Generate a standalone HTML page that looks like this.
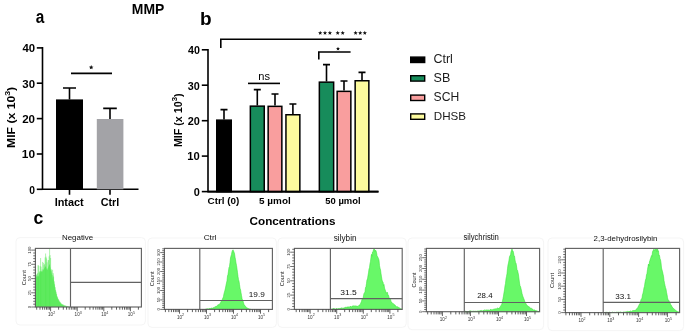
<!DOCTYPE html>
<html><head><meta charset="utf-8"><style>
html,body{margin:0;padding:0;background:#fff;}
svg{display:block;} svg text{filter:grayscale(1);}
</style></head><body>
<svg width="685" height="335" viewBox="0 0 685 335">
<rect width="685" height="335" fill="#fff"/>
<text x="35.75" y="22.53" font-family="'Liberation Sans', sans-serif" font-weight="bold" font-size="17.89" textLength="8.55" lengthAdjust="spacingAndGlyphs" >a</text>
<text x="131.87" y="13.60" font-family="'Liberation Sans', sans-serif" font-weight="bold" font-size="13.95" textLength="32.51" lengthAdjust="spacingAndGlyphs" >MMP</text>
<g stroke="#000" stroke-width="1.6" fill="none">
<path d="M42.5,47.1V189.3H138.5"/>
<path d="M36.8,189.3H42.5"/>
<path d="M36.8,154.0H42.5"/>
<path d="M36.8,118.6H42.5"/>
<path d="M36.8,83.2H42.5"/>
<path d="M36.8,47.9H42.5"/>
<path d="M69.5,189.3V194.8M110,189.3V194.8"/>
</g>
<text x="29.29" y="193.60" font-family="'Liberation Sans', sans-serif" font-weight="bold" font-size="10.60" textLength="5.73" lengthAdjust="spacingAndGlyphs" >0</text>
<text x="21.85" y="158.25" font-family="'Liberation Sans', sans-serif" font-weight="bold" font-size="10.60" textLength="13.24" lengthAdjust="spacingAndGlyphs" >10</text>
<text x="22.20" y="122.90" font-family="'Liberation Sans', sans-serif" font-weight="bold" font-size="10.60" textLength="12.88" lengthAdjust="spacingAndGlyphs" >20</text>
<text x="22.34" y="87.55" font-family="'Liberation Sans', sans-serif" font-weight="bold" font-size="10.60" textLength="12.73" lengthAdjust="spacingAndGlyphs" >30</text>
<text x="22.43" y="52.20" font-family="'Liberation Sans', sans-serif" font-weight="bold" font-size="10.60" textLength="12.64" lengthAdjust="spacingAndGlyphs" >40</text>
<rect x="56" y="99.4" width="27" height="89.9" fill="#000"/>
<rect x="96.8" y="119" width="26.6" height="70.3" fill="#a3a3a7"/>
<g stroke="#000" stroke-width="1.6" fill="none">
<path d="M69.5,99.4V88M63,88H76"/>
<path d="M110,119V108.4M103.2,108.4H116.8"/>
<path d="M71,73.4H112"/>
</g>
<polygon points="91.20,65.00 91.83,66.53 93.48,66.66 92.23,67.73 92.61,69.34 91.20,68.48 89.79,69.34 90.17,67.73 88.92,66.66 90.57,66.53" fill="#111"/>
<text x="54.67" y="206.00" font-family="'Liberation Sans', sans-serif" font-weight="bold" font-size="10.90" textLength="29.06" lengthAdjust="spacingAndGlyphs" >Intact</text>
<text x="100.66" y="206.30" font-family="'Liberation Sans', sans-serif" font-weight="bold" font-size="10.63" textLength="18.61" lengthAdjust="spacingAndGlyphs" >Ctrl</text>
<text transform="translate(15.0,117.4) rotate(-90) scale(1.12,1)" font-family="'Liberation Sans', sans-serif" font-weight="bold" font-size="10.9" text-anchor="middle">MIF (x 10<tspan dy="-4.8" font-size="7.8">3</tspan><tspan dy="4.8">)</tspan></text>
<text x="199.94" y="24.53" font-family="'Liberation Sans', sans-serif" font-weight="bold" font-size="17.43" textLength="11.64" lengthAdjust="spacingAndGlyphs" >b</text>
<g stroke="#000" stroke-width="1.6" fill="none">
<path d="M208,49.0V191.6H378.5"/>
<path d="M201.8,191.6H208"/>
<path d="M201.8,156.1H208"/>
<path d="M201.8,120.7H208"/>
<path d="M201.8,85.2H208"/>
<path d="M201.8,49.8H208"/>
</g>
<text x="193.77" y="195.90" font-family="'Liberation Sans', sans-serif" font-weight="bold" font-size="10.88" textLength="6.08" lengthAdjust="spacingAndGlyphs" >0</text>
<text x="187.39" y="160.45" font-family="'Liberation Sans', sans-serif" font-weight="bold" font-size="10.88" textLength="12.47" lengthAdjust="spacingAndGlyphs" >10</text>
<text x="187.72" y="125.00" font-family="'Liberation Sans', sans-serif" font-weight="bold" font-size="10.88" textLength="12.13" lengthAdjust="spacingAndGlyphs" >20</text>
<text x="187.85" y="89.55" font-family="'Liberation Sans', sans-serif" font-weight="bold" font-size="10.88" textLength="11.99" lengthAdjust="spacingAndGlyphs" >30</text>
<text x="187.94" y="54.10" font-family="'Liberation Sans', sans-serif" font-weight="bold" font-size="10.88" textLength="11.90" lengthAdjust="spacingAndGlyphs" >40</text>
<path d="M224.00,119.4V109.6M220.50,109.6H227.50" stroke="#000" stroke-width="1.6" fill="none"/>
<rect x="216.75" y="120.15" width="14.50" height="71.45" fill="#000" stroke="#000" stroke-width="1.5"/>
<path d="M257.30,105.4V89.6M253.80,89.6H260.80" stroke="#000" stroke-width="1.6" fill="none"/>
<rect x="250.35" y="106.15" width="13.90" height="85.45" fill="#178c5b" stroke="#000" stroke-width="1.5"/>
<path d="M275.00,105.6V94M271.50,94H278.50" stroke="#000" stroke-width="1.6" fill="none"/>
<rect x="268.15" y="106.35" width="13.70" height="85.25" fill="#f99e9e" stroke="#000" stroke-width="1.5"/>
<path d="M292.90,114V104M289.40,104H296.40" stroke="#000" stroke-width="1.6" fill="none"/>
<rect x="285.95" y="114.75" width="13.90" height="76.85" fill="#fdfb9e" stroke="#000" stroke-width="1.5"/>
<path d="M326.50,81.4V64.6M323.00,64.6H330.00" stroke="#000" stroke-width="1.6" fill="none"/>
<rect x="319.35" y="82.15" width="14.30" height="109.45" fill="#178c5b" stroke="#000" stroke-width="1.5"/>
<path d="M344.00,90.6V81M340.50,81H347.50" stroke="#000" stroke-width="1.6" fill="none"/>
<rect x="337.15" y="91.35" width="13.70" height="100.25" fill="#f99e9e" stroke="#000" stroke-width="1.5"/>
<path d="M362.00,80V72.4M358.50,72.4H365.50" stroke="#000" stroke-width="1.6" fill="none"/>
<rect x="355.15" y="80.75" width="13.70" height="110.85" fill="#fdfb9e" stroke="#000" stroke-width="1.5"/>
<g stroke="#000" stroke-width="1.6" fill="none">
<path d="M208,191.6H378.5"/>
<path d="M220.8,48V39.2H361.8"/>
<path d="M318.8,59.4V52H350.6"/>
<path d="M248,83.4H280"/>
</g>
<text x="258.26" y="79.60" font-family="'Liberation Sans', sans-serif" font-size="11.15" textLength="11.74" lengthAdjust="spacingAndGlyphs" >ns</text>
<polygon points="338.00,46.70 338.56,48.04 340.00,48.15 338.90,49.09 339.23,50.50 338.00,49.74 336.77,50.50 337.10,49.09 336.00,48.15 337.44,48.04" fill="#111"/>
<polygon points="320.20,30.75 320.80,32.18 322.34,32.30 321.16,33.31 321.52,34.82 320.20,34.01 318.88,34.82 319.24,33.31 318.06,32.30 319.60,32.18" fill="#111"/>
<polygon points="325.00,30.75 325.60,32.18 327.14,32.30 325.96,33.31 326.32,34.82 325.00,34.01 323.68,34.82 324.04,33.31 322.86,32.30 324.40,32.18" fill="#111"/>
<polygon points="329.90,30.75 330.50,32.18 332.04,32.30 330.86,33.31 331.22,34.82 329.90,34.01 328.58,34.82 328.94,33.31 327.76,32.30 329.30,32.18" fill="#111"/>
<polygon points="337.70,30.75 338.30,32.18 339.84,32.30 338.66,33.31 339.02,34.82 337.70,34.01 336.38,34.82 336.74,33.31 335.56,32.30 337.10,32.18" fill="#111"/>
<polygon points="342.70,30.75 343.30,32.18 344.84,32.30 343.66,33.31 344.02,34.82 342.70,34.01 341.38,34.82 341.74,33.31 340.56,32.30 342.10,32.18" fill="#111"/>
<polygon points="355.60,30.75 356.20,32.18 357.74,32.30 356.56,33.31 356.92,34.82 355.60,34.01 354.28,34.82 354.64,33.31 353.46,32.30 355.00,32.18" fill="#111"/>
<polygon points="360.20,30.75 360.80,32.18 362.34,32.30 361.16,33.31 361.52,34.82 360.20,34.01 358.88,34.82 359.24,33.31 358.06,32.30 359.60,32.18" fill="#111"/>
<polygon points="364.80,30.75 365.40,32.18 366.94,32.30 365.76,33.31 366.12,34.82 364.80,34.01 363.48,34.82 363.84,33.31 362.66,32.30 364.20,32.18" fill="#111"/>
<text x="207.49" y="203.92" font-family="'Liberation Sans', sans-serif" font-weight="bold" font-size="9.55" textLength="31.90" lengthAdjust="spacingAndGlyphs" >Ctrl (0)</text>
<text x="259.10" y="203.60" font-family="'Liberation Sans', sans-serif" font-weight="bold" font-size="9.11" textLength="31.61" lengthAdjust="spacingAndGlyphs" >5 µmol</text>
<text x="325.31" y="203.60" font-family="'Liberation Sans', sans-serif" font-weight="bold" font-size="9.11" textLength="35.36" lengthAdjust="spacingAndGlyphs" >50 µmol</text>
<text x="249.52" y="225.00" font-family="'Liberation Sans', sans-serif" font-weight="bold" font-size="11.04" textLength="85.96" lengthAdjust="spacingAndGlyphs" >Concentrations</text>
<text transform="translate(181.6,120.3) rotate(-90) scale(1.05,1)" font-family="'Liberation Sans', sans-serif" font-weight="bold" font-size="10.2" text-anchor="middle">MIF (x 10<tspan dy="-4.6" font-size="7.4">3</tspan><tspan dy="4.6">)</tspan></text>
<rect x="410.7" y="57.1" width="14" height="5.4" fill="#000" stroke="#000" stroke-width="1.4"/>
<text x="433.47" y="63.40" font-family="'Liberation Sans', sans-serif" font-size="11.87" textLength="19.37" lengthAdjust="spacingAndGlyphs" fill="#1a1a1a" >Ctrl</text>
<rect x="410.7" y="75.7" width="14" height="5.4" fill="#178c5b" stroke="#000" stroke-width="1.4"/>
<text x="433.53" y="82.30" font-family="'Liberation Sans', sans-serif" font-size="12.03" textLength="16.73" lengthAdjust="spacingAndGlyphs" fill="#1a1a1a" >SB</text>
<rect x="410.7" y="95.1" width="14" height="5.4" fill="#f99e9e" stroke="#000" stroke-width="1.4"/>
<text x="433.55" y="101.10" font-family="'Liberation Sans', sans-serif" font-size="11.89" textLength="25.64" lengthAdjust="spacingAndGlyphs" fill="#1a1a1a" >SCH</text>
<rect x="410.7" y="113.9" width="14" height="5.4" fill="#fdfb9e" stroke="#000" stroke-width="1.4"/>
<text x="433.85" y="120.30" font-family="'Liberation Sans', sans-serif" font-size="11.60" textLength="32.27" lengthAdjust="spacingAndGlyphs" fill="#1a1a1a" >DHSB</text>
<text x="33.51" y="224.21" font-family="'Liberation Sans', sans-serif" font-weight="bold" font-size="18.98" textLength="9.81" lengthAdjust="spacingAndGlyphs" >c</text>
<rect x="16" y="237.6" width="129.4" height="87.4" rx="4" fill="none" stroke="#f5f5f5" stroke-width="1"/>
<path d="M35.6,307.0L35.6,278.0L36.1,277.3L36.6,276.6L37.1,276.1L37.6,276.4L38.1,276.7L38.6,276.6L39.1,274.6L39.6,272.6L40.1,271.1L40.6,271.3L41.1,271.6L41.6,271.8L42.1,271.9L42.6,271.1L43.1,270.4L43.6,269.6L44.1,268.8L44.6,267.8L45.1,266.8L45.6,266.3L46.1,267.6L46.6,268.9L47.1,269.8L47.6,268.6L48.1,267.4L48.6,266.2L49.1,265.0L49.6,264.4L50.1,266.4L50.6,268.4L51.1,270.4L51.6,272.4L52.1,275.0L52.6,280.0L53.1,273.8L53.6,277.6L54.1,281.5L54.6,284.7L55.1,287.6L55.6,290.4L56.1,292.6L56.6,294.6L57.1,296.6L57.6,297.9L58.1,299.1L58.6,300.3L59.1,301.2L59.6,302.0L60.1,302.8L60.6,303.4L61.1,304.0L61.6,304.5L62.1,304.8L62.6,305.1L63.1,305.4L63.6,305.7L64.1,306.0L64.6,306.3L65.1,306.5L65.6,306.7L66.1,306.8L66.6,307.0L67.1,307.0L67.6,307.0L68.1,307.0L68.6,307.0L69.1,307.0L69.6,307.0L70.1,307.0L70.1,307.0Z" fill="#86f286"/>
<path d="M35.60,307.0V270.1M36.10,307.0V275.4M36.60,307.0V274.8M37.10,307.0V274.0M37.60,307.0V272.9M38.10,307.0V265.2M38.60,307.0V276.2M39.10,307.0V272.7M39.60,307.0V271.4M40.10,307.0V266.1M40.60,307.0V272.5M41.10,307.0V266.7M41.60,307.0V270.9M42.10,307.0V269.5M42.60,307.0V261.9M43.10,307.0V269.5M43.60,307.0V262.9M44.10,307.0V265.1M44.60,307.0V264.1M45.10,307.0V257.5M45.60,307.0V266.7M46.10,307.0V256.7M46.60,307.0V258.4M47.10,307.0V262.3M47.60,307.0V270.0M48.10,307.0V260.2M48.60,307.0V260.1M49.10,307.0V256.4M49.60,307.0V264.4M50.10,307.0V255.1M50.60,307.0V258.0M51.10,307.0V270.5M51.60,307.0V269.3M52.10,307.0V274.9M52.60,307.0V269.8M53.10,307.0V273.0M53.60,307.0V276.6M54.10,307.0V281.3M54.60,307.0V284.3M55.10,307.0V287.1M55.60,307.0V290.0M56.10,307.0V291.7M56.60,307.0V294.0M57.10,307.0V296.2M57.60,307.0V297.3M58.10,307.0V298.8M58.60,307.0V299.4M59.10,307.0V300.3M59.60,307.0V301.3M60.10,307.0V301.9M60.60,307.0V302.5M61.10,307.0V303.2M61.60,307.0V303.8M62.10,307.0V304.1M62.60,307.0V304.3M63.10,307.0V304.6M63.60,307.0V304.8M64.10,307.0V305.0M64.60,307.0V305.4M65.10,307.0V305.5M65.60,307.0V305.7M66.10,307.0V305.8M66.60,307.0V306.0M67.10,307.0V306.2M67.60,307.0V306.3M68.10,307.0V306.4M68.60,307.0V306.6M69.10,307.0V306.7M69.60,307.0V306.8M70.10,307.0V307.0M49.60,307.0V249M45.60,307.0V253.5M40.60,307.0V258M38.40,307.0V265.5" stroke="#4ee84e" stroke-width="0.55" opacity="0.85" fill="none"/>
<g stroke="#626262" stroke-width="1.15" fill="none">
<rect x="35.4" y="248.4" width="106.0" height="58.6"/>
<path d="M70.5,248.4V307.0M70.5,282.3H141.4"/>
</g>
<path d="M36.7,307.0v2.7M40.0,307.0v2.7M42.6,307.0v2.7M44.7,307.0v2.7M46.5,307.0v2.7M48.0,307.0v2.7M49.4,307.0v2.7M50.6,307.0v4.3M58.6,307.0v2.7M63.3,307.0v2.7M66.6,307.0v2.7M69.2,307.0v2.7M71.3,307.0v2.7M73.1,307.0v2.7M74.6,307.0v2.7M76.0,307.0v2.7M77.2,307.0v4.3M85.2,307.0v2.7M89.9,307.0v2.7M93.2,307.0v2.7M95.8,307.0v2.7M97.9,307.0v2.7M99.7,307.0v2.7M101.2,307.0v2.7M102.6,307.0v2.7M103.8,307.0v4.3M111.8,307.0v2.7M116.5,307.0v2.7M119.8,307.0v2.7M122.4,307.0v2.7M124.5,307.0v2.7M126.3,307.0v2.7M127.8,307.0v2.7M129.2,307.0v2.7M130.4,307.0v4.3M138.4,307.0v2.7" stroke="#444" stroke-width="0.85"/>
<text x="48.0" y="316.2" font-family="'Liberation Sans', sans-serif" font-size="4.6" fill="#333">10<tspan dy="-2.2" font-size="3.6">2</tspan></text>
<text x="74.6" y="316.2" font-family="'Liberation Sans', sans-serif" font-size="4.6" fill="#333">10<tspan dy="-2.2" font-size="3.6">3</tspan></text>
<text x="101.2" y="316.2" font-family="'Liberation Sans', sans-serif" font-size="4.6" fill="#333">10<tspan dy="-2.2" font-size="3.6">4</tspan></text>
<text x="127.8" y="316.2" font-family="'Liberation Sans', sans-serif" font-size="4.6" fill="#333">10<tspan dy="-2.2" font-size="3.6">5</tspan></text>
<path d="M35.4,307.0h-4.2M35.4,304.2h-2.2M35.4,301.3h-2.2M35.4,298.5h-2.2M35.4,295.6h-2.2M35.4,292.8h-4.2M35.4,289.9h-2.2M35.4,287.1h-2.2M35.4,284.2h-2.2M35.4,281.4h-2.2M35.4,278.6h-4.2M35.4,275.7h-2.2M35.4,272.9h-2.2M35.4,270.0h-2.2M35.4,267.2h-2.2M35.4,264.3h-4.2M35.4,261.5h-2.2M35.4,258.6h-2.2M35.4,255.8h-2.2M35.4,253.0h-2.2M35.4,250.1h-4.2" stroke="#444" stroke-width="0.75"/>
<text transform="translate(31.1,307.0) rotate(-90)" font-family="'Liberation Sans', sans-serif" font-size="4.3" fill="#333" text-anchor="middle">0</text>
<text transform="translate(31.1,292.8) rotate(-90)" font-family="'Liberation Sans', sans-serif" font-size="4.3" fill="#333" text-anchor="middle">25</text>
<text transform="translate(31.1,278.6) rotate(-90)" font-family="'Liberation Sans', sans-serif" font-size="4.3" fill="#333" text-anchor="middle">50</text>
<text transform="translate(31.1,264.3) rotate(-90)" font-family="'Liberation Sans', sans-serif" font-size="4.3" fill="#333" text-anchor="middle">75</text>
<text transform="translate(31.1,250.1) rotate(-90)" font-family="'Liberation Sans', sans-serif" font-size="4.3" fill="#333" text-anchor="middle">100</text>
<text transform="translate(26.2,277.7) rotate(-90)" font-family="'Liberation Sans', sans-serif" font-size="5.6" fill="#222" text-anchor="middle">Count</text>
<text x="61.95" y="240.00" font-family="'Liberation Sans', sans-serif" font-size="7.73" textLength="31.30" lengthAdjust="spacingAndGlyphs" fill="#111" >Negative</text>
<rect x="148" y="238" width="128.4" height="89.4" rx="4" fill="none" stroke="#f5f5f5" stroke-width="1"/>
<path d="M205.0,309.4L205.0,309.4L205.5,309.4L206.0,309.2L206.5,309.0L207.0,309.0L207.5,308.8L208.0,308.9L208.5,309.0L209.0,308.6L209.5,308.5L210.0,308.6L210.5,308.5L211.0,308.4L211.5,308.1L212.0,308.1L212.5,308.2L213.0,307.7L213.5,307.8L214.0,307.4L214.5,307.2L215.0,306.7L215.5,306.8L216.0,306.2L216.5,306.3L217.0,305.9L217.5,305.5L218.0,304.6L218.5,304.8L219.0,304.6L219.5,304.4L220.0,303.5L220.5,302.8L221.0,301.7L221.5,300.7L222.0,300.4L222.5,298.7L223.0,298.0L223.5,296.4L224.0,293.7L224.5,291.9L225.0,290.1L225.5,288.0L226.0,285.3L226.5,283.0L227.0,280.8L227.5,276.0L228.0,274.6L228.5,271.1L229.0,267.5L229.5,266.5L230.0,262.6L230.5,258.0L231.0,256.1L231.5,254.4L232.0,251.7L232.5,250.4L233.0,249.8L233.5,251.0L234.0,252.2L234.5,253.4L235.0,257.2L235.5,259.6L236.0,263.1L236.5,265.4L237.0,269.1L237.5,272.6L238.0,276.6L238.5,279.7L239.0,281.2L239.5,284.5L240.0,288.3L240.5,289.5L241.0,292.8L241.5,295.5L242.0,298.5L242.5,299.9L243.0,301.1L243.5,302.8L244.0,304.4L244.5,305.5L245.0,305.6L245.5,306.3L246.0,307.0L246.5,307.6L247.0,308.2L247.5,308.1L248.0,308.5L248.5,308.6L249.0,309.0L249.5,309.1L250.0,309.1L250.5,309.4L251.0,309.3L251.0,309.4Z" fill="#68f868" stroke="#3ee43e" stroke-width="0.6" stroke-linejoin="round"/>
<g stroke="#626262" stroke-width="1.15" fill="none">
<rect x="164.4" y="248.4" width="108.0" height="61.0"/>
<path d="M199.8,248.4V309.4M199.8,300.5H272.4"/>
</g>
<path d="M165.4,309.4v2.7M168.8,309.4v2.7M171.4,309.4v2.7M173.5,309.4v2.7M175.3,309.4v2.7M176.9,309.4v2.7M178.3,309.4v2.7M179.5,309.4v4.3M187.6,309.4v2.7M192.4,309.4v2.7M195.8,309.4v2.7M198.4,309.4v2.7M200.5,309.4v2.7M202.3,309.4v2.7M203.9,309.4v2.7M205.3,309.4v2.7M206.5,309.4v4.3M214.6,309.4v2.7M219.4,309.4v2.7M222.8,309.4v2.7M225.4,309.4v2.7M227.5,309.4v2.7M229.3,309.4v2.7M230.9,309.4v2.7M232.3,309.4v2.7M233.5,309.4v4.3M241.6,309.4v2.7M246.4,309.4v2.7M249.8,309.4v2.7M252.4,309.4v2.7M254.5,309.4v2.7M256.3,309.4v2.7M257.9,309.4v2.7M259.3,309.4v2.7M260.5,309.4v4.3M268.6,309.4v2.7" stroke="#444" stroke-width="0.85"/>
<text x="176.9" y="318.6" font-family="'Liberation Sans', sans-serif" font-size="4.6" fill="#333">10<tspan dy="-2.2" font-size="3.6">2</tspan></text>
<text x="203.9" y="318.6" font-family="'Liberation Sans', sans-serif" font-size="4.6" fill="#333">10<tspan dy="-2.2" font-size="3.6">3</tspan></text>
<text x="230.9" y="318.6" font-family="'Liberation Sans', sans-serif" font-size="4.6" fill="#333">10<tspan dy="-2.2" font-size="3.6">4</tspan></text>
<text x="257.9" y="318.6" font-family="'Liberation Sans', sans-serif" font-size="4.6" fill="#333">10<tspan dy="-2.2" font-size="3.6">5</tspan></text>
<path d="M164.4,309.4h-4.2M164.4,307.5h-2.2M164.4,305.6h-2.2M164.4,303.7h-2.2M164.4,301.8h-2.2M164.4,299.9h-4.2M164.4,298.0h-2.2M164.4,296.1h-2.2M164.4,294.2h-2.2M164.4,292.4h-2.2M164.4,290.5h-4.2M164.4,288.6h-2.2M164.4,286.7h-2.2M164.4,284.8h-2.2M164.4,282.9h-2.2M164.4,281.0h-4.2M164.4,279.1h-2.2M164.4,277.2h-2.2M164.4,275.3h-2.2M164.4,273.4h-2.2M164.4,271.5h-4.2M164.4,269.6h-2.2M164.4,267.7h-2.2M164.4,265.8h-2.2M164.4,263.9h-2.2M164.4,262.0h-4.2M164.4,260.1h-2.2M164.4,258.3h-2.2M164.4,256.4h-2.2M164.4,254.5h-2.2M164.4,252.6h-4.2M164.4,250.7h-2.2M164.4,248.8h-2.2" stroke="#444" stroke-width="0.75"/>
<text transform="translate(160.1,309.4) rotate(-90)" font-family="'Liberation Sans', sans-serif" font-size="4.3" fill="#333" text-anchor="middle">0</text>
<text transform="translate(160.1,299.9) rotate(-90)" font-family="'Liberation Sans', sans-serif" font-size="4.3" fill="#333" text-anchor="middle">50</text>
<text transform="translate(160.1,290.5) rotate(-90)" font-family="'Liberation Sans', sans-serif" font-size="4.3" fill="#333" text-anchor="middle">100</text>
<text transform="translate(160.1,281.0) rotate(-90)" font-family="'Liberation Sans', sans-serif" font-size="4.3" fill="#333" text-anchor="middle">150</text>
<text transform="translate(160.1,271.5) rotate(-90)" font-family="'Liberation Sans', sans-serif" font-size="4.3" fill="#333" text-anchor="middle">200</text>
<text transform="translate(160.1,262.0) rotate(-90)" font-family="'Liberation Sans', sans-serif" font-size="4.3" fill="#333" text-anchor="middle">250</text>
<text transform="translate(160.1,252.6) rotate(-90)" font-family="'Liberation Sans', sans-serif" font-size="4.3" fill="#333" text-anchor="middle">300</text>
<text transform="translate(154.4,278.9) rotate(-90)" font-family="'Liberation Sans', sans-serif" font-size="5.6" fill="#222" text-anchor="middle">Count</text>
<text x="203.68" y="239.90" font-family="'Liberation Sans', sans-serif" font-size="7.87" textLength="12.77" lengthAdjust="spacingAndGlyphs" fill="#111" >Ctrl</text>
<text x="248.77" y="296.60" font-family="'Liberation Sans', sans-serif" font-size="7.16" textLength="16.02" lengthAdjust="spacingAndGlyphs" fill="#111" >19.9</text>
<rect x="278" y="238" width="128.2" height="89.4" rx="4" fill="none" stroke="#f5f5f5" stroke-width="1"/>
<path d="M330.5,309.4L330.5,309.4L331.0,309.3L331.5,309.4L332.0,308.8L332.5,309.2L333.0,308.6L333.5,308.5L334.0,308.9L334.5,308.7L335.0,309.0L335.5,309.4L336.0,308.6L336.5,308.6L337.0,308.9L337.5,308.9L338.0,308.6L338.5,308.6L339.0,308.8L339.5,308.7L340.0,308.1L340.5,308.4L341.0,308.3L341.5,307.9L342.0,308.3L342.5,307.8L343.0,308.4L343.5,308.1L344.0,308.0L344.5,307.7L345.0,307.8L345.5,307.1L346.0,307.3L346.5,307.8L347.0,306.8L347.5,307.8L348.0,306.7L348.5,307.5L349.0,306.7L349.5,307.2L350.0,306.8L350.5,306.0L351.0,307.0L351.5,307.0L352.0,306.3L352.5,306.1L353.0,306.1L353.5,305.7L354.0,306.5L354.5,305.8L355.0,306.1L355.5,305.9L356.0,306.1L356.5,305.9L357.0,307.0L357.5,306.2L358.0,306.4L358.5,305.8L359.0,305.2L359.5,305.1L360.0,304.7L360.5,303.8L361.0,302.5L361.5,301.3L362.0,299.5L362.5,298.6L363.0,299.1L363.5,295.7L364.0,293.5L364.5,292.8L365.0,291.9L365.5,287.5L366.0,286.8L366.5,283.5L367.0,279.5L367.5,279.3L368.0,275.6L368.5,272.9L369.0,269.1L369.5,267.8L370.0,263.7L370.5,261.4L371.0,257.3L371.5,254.3L372.0,256.3L372.5,252.1L373.0,251.7L373.5,249.7L374.0,249.0L374.5,249.2L375.0,251.3L375.5,250.2L376.0,250.8L376.5,252.5L377.0,255.7L377.5,256.5L378.0,257.5L378.5,258.7L379.0,260.2L379.5,265.7L380.0,268.2L380.5,269.8L381.0,273.6L381.5,276.9L382.0,279.9L382.5,281.6L383.0,281.9L383.5,285.5L384.0,284.5L384.5,288.1L385.0,289.4L385.5,290.8L386.0,292.6L386.5,293.2L387.0,292.1L387.5,292.7L388.0,295.6L388.5,295.3L389.0,297.2L389.5,298.8L390.0,298.2L390.5,299.1L391.0,301.7L391.5,302.1L392.0,302.5L392.5,303.3L393.0,303.4L393.5,303.7L394.0,304.9L394.5,304.8L395.0,304.8L395.5,306.1L396.0,306.2L396.5,306.7L397.0,306.4L397.5,306.8L398.0,307.0L398.5,307.3L399.0,307.9L399.5,307.8L400.0,308.5L400.5,308.7L401.0,309.4L401.5,308.7L402.0,309.4L402.0,309.4Z" fill="#68f868" stroke="#3ee43e" stroke-width="0.6" stroke-linejoin="round"/>
<g stroke="#626262" stroke-width="1.15" fill="none">
<rect x="294.4" y="248.4" width="107.8" height="61.0"/>
<path d="M330.4,248.4V309.4M330.4,298.6H402.2"/>
</g>
<path d="M296.2,309.4v2.7M299.5,309.4v2.7M302.1,309.4v2.7M304.2,309.4v2.7M306.0,309.4v2.7M307.5,309.4v2.7M308.9,309.4v2.7M310.1,309.4v4.3M318.1,309.4v2.7M322.8,309.4v2.7M326.1,309.4v2.7M328.7,309.4v2.7M330.8,309.4v2.7M332.6,309.4v2.7M334.1,309.4v2.7M335.5,309.4v2.7M336.7,309.4v4.3M344.7,309.4v2.7M349.4,309.4v2.7M352.7,309.4v2.7M355.3,309.4v2.7M357.4,309.4v2.7M359.2,309.4v2.7M360.7,309.4v2.7M362.1,309.4v2.7M363.3,309.4v4.3M371.3,309.4v2.7M376.0,309.4v2.7M379.3,309.4v2.7M381.9,309.4v2.7M384.0,309.4v2.7M385.8,309.4v2.7M387.3,309.4v2.7M388.7,309.4v2.7M389.9,309.4v4.3M397.9,309.4v2.7" stroke="#444" stroke-width="0.85"/>
<text x="307.5" y="318.6" font-family="'Liberation Sans', sans-serif" font-size="4.6" fill="#333">10<tspan dy="-2.2" font-size="3.6">2</tspan></text>
<text x="334.1" y="318.6" font-family="'Liberation Sans', sans-serif" font-size="4.6" fill="#333">10<tspan dy="-2.2" font-size="3.6">3</tspan></text>
<text x="360.7" y="318.6" font-family="'Liberation Sans', sans-serif" font-size="4.6" fill="#333">10<tspan dy="-2.2" font-size="3.6">4</tspan></text>
<text x="387.3" y="318.6" font-family="'Liberation Sans', sans-serif" font-size="4.6" fill="#333">10<tspan dy="-2.2" font-size="3.6">5</tspan></text>
<path d="M294.4,309.4h-4.2M294.4,306.5h-2.2M294.4,303.7h-2.2M294.4,300.8h-2.2M294.4,298.0h-2.2M294.4,295.1h-4.2M294.4,292.2h-2.2M294.4,289.4h-2.2M294.4,286.5h-2.2M294.4,283.6h-2.2M294.4,280.8h-4.2M294.4,277.9h-2.2M294.4,275.1h-2.2M294.4,272.2h-2.2M294.4,269.3h-2.2M294.4,266.5h-4.2M294.4,263.6h-2.2M294.4,260.8h-2.2M294.4,257.9h-2.2M294.4,255.0h-2.2M294.4,252.2h-4.2M294.4,249.3h-2.2" stroke="#444" stroke-width="0.75"/>
<text transform="translate(290.1,309.4) rotate(-90)" font-family="'Liberation Sans', sans-serif" font-size="4.3" fill="#333" text-anchor="middle">0</text>
<text transform="translate(290.1,295.1) rotate(-90)" font-family="'Liberation Sans', sans-serif" font-size="4.3" fill="#333" text-anchor="middle">25</text>
<text transform="translate(290.1,280.8) rotate(-90)" font-family="'Liberation Sans', sans-serif" font-size="4.3" fill="#333" text-anchor="middle">50</text>
<text transform="translate(290.1,266.5) rotate(-90)" font-family="'Liberation Sans', sans-serif" font-size="4.3" fill="#333" text-anchor="middle">75</text>
<text transform="translate(290.1,252.2) rotate(-90)" font-family="'Liberation Sans', sans-serif" font-size="4.3" fill="#333" text-anchor="middle">100</text>
<text transform="translate(284.4,278.9) rotate(-90)" font-family="'Liberation Sans', sans-serif" font-size="5.6" fill="#222" text-anchor="middle">Count</text>
<text x="333.77" y="240.60" font-family="'Liberation Sans', sans-serif" font-size="9.11" textLength="22.76" lengthAdjust="spacingAndGlyphs" fill="#111" >silybin</text>
<text x="340.28" y="295.40" font-family="'Liberation Sans', sans-serif" font-size="6.87" textLength="16.48" lengthAdjust="spacingAndGlyphs" fill="#111" >31.5</text>
<rect x="408" y="238" width="135.6" height="91.7" rx="4" fill="none" stroke="#f5f5f5" stroke-width="1"/>
<path d="M464.5,311.7L464.5,311.6L465.0,311.6L465.5,311.3L466.0,311.5L466.5,311.7L467.0,311.5L467.5,311.5L468.0,311.4L468.5,311.7L469.0,311.4L469.5,311.0L470.0,311.3L470.5,311.0L471.0,310.7L471.5,311.3L472.0,311.6L472.5,311.3L473.0,311.1L473.5,311.1L474.0,311.5L474.5,311.3L475.0,311.2L475.5,311.2L476.0,311.2L476.5,311.3L477.0,311.2L477.5,311.1L478.0,310.8L478.5,311.1L479.0,310.8L479.5,311.1L480.0,310.5L480.5,310.7L481.0,310.7L481.5,310.4L482.0,311.0L482.5,310.9L483.0,310.4L483.5,310.6L484.0,310.5L484.5,309.7L485.0,310.4L485.5,310.2L486.0,310.2L486.5,309.9L487.0,310.0L487.5,310.0L488.0,310.3L488.5,310.0L489.0,309.9L489.5,310.2L490.0,309.7L490.5,309.6L491.0,309.2L491.5,310.0L492.0,309.7L492.5,309.7L493.0,309.5L493.5,309.3L494.0,309.3L494.5,309.0L495.0,308.9L495.5,308.8L496.0,309.1L496.5,308.7L497.0,308.4L497.5,308.1L498.0,307.9L498.5,308.5L499.0,308.0L499.5,307.8L500.0,307.5L500.5,306.2L501.0,305.5L501.5,304.9L502.0,303.3L502.5,300.9L503.0,298.4L503.5,296.1L504.0,292.6L504.5,289.9L505.0,285.9L505.5,283.6L506.0,278.9L506.5,276.4L507.0,273.7L507.5,268.7L508.0,265.0L508.5,263.0L509.0,260.2L509.5,256.7L510.0,255.4L510.5,255.5L511.0,251.8L511.5,250.4L512.0,248.9L512.5,251.0L513.0,250.9L513.5,252.5L514.0,256.2L514.5,256.1L515.0,260.0L515.5,262.4L516.0,263.2L516.5,266.0L517.0,269.7L517.5,270.3L518.0,272.5L518.5,274.9L519.0,279.0L519.5,283.1L520.0,285.7L520.5,286.5L521.0,288.6L521.5,290.9L522.0,293.5L522.5,295.2L523.0,296.7L523.5,298.1L524.0,299.2L524.5,300.6L525.0,302.1L525.5,302.7L526.0,303.7L526.5,305.0L527.0,305.2L527.5,305.8L528.0,305.9L528.5,306.9L529.0,306.5L529.5,307.0L530.0,308.0L530.5,308.3L531.0,308.3L531.5,308.2L532.0,308.9L532.5,309.0L533.0,309.6L533.5,310.2L534.0,310.0L534.5,309.9L535.0,310.1L535.5,310.6L536.0,310.8L536.5,310.7L537.0,311.1L537.5,310.9L538.0,311.5L538.5,311.6L539.0,311.7L539.5,311.5L539.5,311.7Z" fill="#68f868" stroke="#3ee43e" stroke-width="0.6" stroke-linejoin="round"/>
<g stroke="#626262" stroke-width="1.15" fill="none">
<rect x="426.4" y="248.4" width="113.2" height="63.3"/>
<path d="M464.3,248.4V311.7M464.3,302.5H539.6"/>
</g>
<path d="M427.7,311.7v2.7M431.2,311.7v2.7M434.0,311.7v2.7M436.2,311.7v2.7M438.1,311.7v2.7M439.7,311.7v2.7M441.1,311.7v2.7M442.4,311.7v4.3M450.8,311.7v2.7M455.8,311.7v2.7M459.3,311.7v2.7M462.0,311.7v2.7M464.2,311.7v2.7M466.1,311.7v2.7M467.7,311.7v2.7M469.2,311.7v2.7M470.4,311.7v4.3M478.9,311.7v2.7M483.8,311.7v2.7M487.3,311.7v2.7M490.1,311.7v2.7M492.3,311.7v2.7M494.2,311.7v2.7M495.8,311.7v2.7M497.2,311.7v2.7M498.5,311.7v4.3M506.9,311.7v2.7M511.9,311.7v2.7M515.4,311.7v2.7M518.1,311.7v2.7M520.3,311.7v2.7M522.2,311.7v2.7M523.8,311.7v2.7M525.3,311.7v2.7M526.5,311.7v4.3M535.0,311.7v2.7" stroke="#444" stroke-width="0.85"/>
<text x="439.8" y="320.9" font-family="'Liberation Sans', sans-serif" font-size="4.6" fill="#333">10<tspan dy="-2.2" font-size="3.6">2</tspan></text>
<text x="467.8" y="320.9" font-family="'Liberation Sans', sans-serif" font-size="4.6" fill="#333">10<tspan dy="-2.2" font-size="3.6">3</tspan></text>
<text x="495.9" y="320.9" font-family="'Liberation Sans', sans-serif" font-size="4.6" fill="#333">10<tspan dy="-2.2" font-size="3.6">4</tspan></text>
<text x="523.9" y="320.9" font-family="'Liberation Sans', sans-serif" font-size="4.6" fill="#333">10<tspan dy="-2.2" font-size="3.6">5</tspan></text>
<path d="M426.4,311.7h-4.2M426.4,309.5h-2.2M426.4,307.4h-2.2M426.4,305.2h-2.2M426.4,303.1h-2.2M426.4,300.9h-4.2M426.4,298.7h-2.2M426.4,296.6h-2.2M426.4,294.4h-2.2M426.4,292.3h-2.2M426.4,290.1h-4.2M426.4,287.9h-2.2M426.4,285.8h-2.2M426.4,283.6h-2.2M426.4,281.5h-2.2M426.4,279.3h-4.2M426.4,277.1h-2.2M426.4,275.0h-2.2M426.4,272.8h-2.2M426.4,270.7h-2.2M426.4,268.5h-4.2M426.4,266.3h-2.2M426.4,264.2h-2.2M426.4,262.0h-2.2M426.4,259.9h-2.2M426.4,257.7h-4.2M426.4,255.5h-2.2M426.4,253.4h-2.2M426.4,251.2h-2.2M426.4,249.0h-2.2" stroke="#444" stroke-width="0.75"/>
<text transform="translate(422.1,311.7) rotate(-90)" font-family="'Liberation Sans', sans-serif" font-size="4.3" fill="#333" text-anchor="middle">0</text>
<text transform="translate(422.1,300.9) rotate(-90)" font-family="'Liberation Sans', sans-serif" font-size="4.3" fill="#333" text-anchor="middle">50</text>
<text transform="translate(422.1,290.1) rotate(-90)" font-family="'Liberation Sans', sans-serif" font-size="4.3" fill="#333" text-anchor="middle">100</text>
<text transform="translate(422.1,279.3) rotate(-90)" font-family="'Liberation Sans', sans-serif" font-size="4.3" fill="#333" text-anchor="middle">150</text>
<text transform="translate(422.1,268.5) rotate(-90)" font-family="'Liberation Sans', sans-serif" font-size="4.3" fill="#333" text-anchor="middle">200</text>
<text transform="translate(422.1,257.7) rotate(-90)" font-family="'Liberation Sans', sans-serif" font-size="4.3" fill="#333" text-anchor="middle">250</text>
<text transform="translate(416.2,280.1) rotate(-90)" font-family="'Liberation Sans', sans-serif" font-size="5.6" fill="#222" text-anchor="middle">Count</text>
<text x="463.39" y="240.00" font-family="'Liberation Sans', sans-serif" font-size="8.28" textLength="35.51" lengthAdjust="spacingAndGlyphs" fill="#111" >silychristin</text>
<text x="477.20" y="298.00" font-family="'Liberation Sans', sans-serif" font-size="8.02" textLength="15.33" lengthAdjust="spacingAndGlyphs" fill="#111" >28.4</text>
<rect x="548" y="238" width="135.6" height="92.6" rx="4" fill="none" stroke="#f5f5f5" stroke-width="1"/>
<path d="M604.0,312.6L604.0,312.6L604.5,312.5L605.0,312.4L605.5,312.4L606.0,312.2L606.5,312.1L607.0,312.6L607.5,312.4L608.0,312.5L608.5,312.6L609.0,312.0L609.5,312.2L610.0,312.5L610.5,312.5L611.0,312.3L611.5,312.6L612.0,312.4L612.5,312.1L613.0,312.1L613.5,312.5L614.0,312.5L614.5,311.9L615.0,312.6L615.5,312.5L616.0,312.6L616.5,312.2L617.0,312.2L617.5,312.0L618.0,312.6L618.5,312.2L619.0,312.6L619.5,312.1L620.0,312.3L620.5,311.8L621.0,312.2L621.5,312.5L622.0,311.9L622.5,312.5L623.0,312.3L623.5,312.0L624.0,312.1L624.5,312.0L625.0,312.1L625.5,311.9L626.0,311.7L626.5,311.8L627.0,311.5L627.5,311.4L628.0,311.7L628.5,311.8L629.0,311.1L629.5,311.5L630.0,311.2L630.5,311.0L631.0,311.4L631.5,310.9L632.0,311.4L632.5,310.6L633.0,310.8L633.5,310.5L634.0,310.2L634.5,310.5L635.0,310.2L635.5,310.3L636.0,310.0L636.5,308.9L637.0,308.5L637.5,307.8L638.0,307.4L638.5,305.8L639.0,305.5L639.5,303.9L640.0,304.3L640.5,301.7L641.0,299.6L641.5,299.0L642.0,298.1L642.5,294.6L643.0,293.2L643.5,290.8L644.0,287.8L644.5,286.3L645.0,282.6L645.5,280.0L646.0,278.6L646.5,274.8L647.0,273.4L647.5,269.5L648.0,266.7L648.5,264.0L649.0,266.1L649.5,261.6L650.0,260.3L650.5,258.5L651.0,257.2L651.5,255.6L652.0,256.3L652.5,251.9L653.0,250.5L653.5,250.3L654.0,249.1L654.5,250.9L655.0,250.2L655.5,248.9L656.0,248.9L656.5,249.1L657.0,251.5L657.5,248.9L658.0,250.7L658.5,250.9L659.0,255.8L659.5,255.5L660.0,258.7L660.5,259.8L661.0,262.9L661.5,268.0L662.0,269.9L662.5,271.6L663.0,274.1L663.5,276.2L664.0,280.6L664.5,283.2L665.0,285.4L665.5,287.7L666.0,289.1L666.5,292.2L667.0,294.5L667.5,297.6L668.0,300.2L668.5,300.0L669.0,300.7L669.5,302.2L670.0,303.0L670.5,304.0L671.0,305.5L671.5,305.6L672.0,307.0L672.5,307.3L673.0,308.1L673.5,308.5L674.0,308.9L674.5,309.2L675.0,309.9L675.5,310.2L676.0,310.8L676.5,311.1L677.0,311.1L677.5,311.7L678.0,311.6L678.5,311.9L679.0,312.2L679.5,312.0L679.5,312.6Z" fill="#68f868" stroke="#3ee43e" stroke-width="0.6" stroke-linejoin="round"/>
<g stroke="#626262" stroke-width="1.15" fill="none">
<rect x="565.4" y="248.4" width="114.2" height="64.2"/>
<path d="M603.2,248.4V312.6M603.2,302.4H679.6"/>
</g>
<path d="M565.9,312.6v2.7M569.5,312.6v2.7M572.3,312.6v2.7M574.6,312.6v2.7M576.5,312.6v2.7M578.2,312.6v2.7M579.7,312.6v2.7M581.0,312.6v4.3M589.7,312.6v2.7M594.7,312.6v2.7M598.3,312.6v2.7M601.1,312.6v2.7M603.4,312.6v2.7M605.3,312.6v2.7M607.0,312.6v2.7M608.5,312.6v2.7M609.8,312.6v4.3M618.5,312.6v2.7M623.5,312.6v2.7M627.1,312.6v2.7M629.9,312.6v2.7M632.2,312.6v2.7M634.1,312.6v2.7M635.8,312.6v2.7M637.3,312.6v2.7M638.6,312.6v4.3M647.3,312.6v2.7M652.3,312.6v2.7M655.9,312.6v2.7M658.7,312.6v2.7M661.0,312.6v2.7M662.9,312.6v2.7M664.6,312.6v2.7M666.1,312.6v2.7M667.4,312.6v4.3M676.1,312.6v2.7" stroke="#444" stroke-width="0.85"/>
<text x="578.4" y="321.8" font-family="'Liberation Sans', sans-serif" font-size="4.6" fill="#333">10<tspan dy="-2.2" font-size="3.6">2</tspan></text>
<text x="607.2" y="321.8" font-family="'Liberation Sans', sans-serif" font-size="4.6" fill="#333">10<tspan dy="-2.2" font-size="3.6">3</tspan></text>
<text x="636.0" y="321.8" font-family="'Liberation Sans', sans-serif" font-size="4.6" fill="#333">10<tspan dy="-2.2" font-size="3.6">4</tspan></text>
<text x="664.8" y="321.8" font-family="'Liberation Sans', sans-serif" font-size="4.6" fill="#333">10<tspan dy="-2.2" font-size="3.6">5</tspan></text>
<path d="M565.4,312.6h-4.2M565.4,310.0h-2.2M565.4,307.3h-2.2M565.4,304.7h-2.2M565.4,302.0h-2.2M565.4,299.4h-4.2M565.4,296.7h-2.2M565.4,294.1h-2.2M565.4,291.5h-2.2M565.4,288.8h-2.2M565.4,286.2h-4.2M565.4,283.5h-2.2M565.4,280.9h-2.2M565.4,278.3h-2.2M565.4,275.6h-2.2M565.4,273.0h-4.2M565.4,270.3h-2.2M565.4,267.7h-2.2M565.4,265.0h-2.2M565.4,262.4h-2.2M565.4,259.8h-4.2M565.4,257.1h-2.2M565.4,254.5h-2.2M565.4,251.8h-2.2M565.4,249.2h-2.2" stroke="#444" stroke-width="0.75"/>
<text transform="translate(561.1,312.6) rotate(-90)" font-family="'Liberation Sans', sans-serif" font-size="4.3" fill="#333" text-anchor="middle">0</text>
<text transform="translate(561.1,299.4) rotate(-90)" font-family="'Liberation Sans', sans-serif" font-size="4.3" fill="#333" text-anchor="middle">50</text>
<text transform="translate(561.1,286.2) rotate(-90)" font-family="'Liberation Sans', sans-serif" font-size="4.3" fill="#333" text-anchor="middle">100</text>
<text transform="translate(561.1,273.0) rotate(-90)" font-family="'Liberation Sans', sans-serif" font-size="4.3" fill="#333" text-anchor="middle">150</text>
<text transform="translate(561.1,259.8) rotate(-90)" font-family="'Liberation Sans', sans-serif" font-size="4.3" fill="#333" text-anchor="middle">200</text>
<text transform="translate(554.3,280.5) rotate(-90)" font-family="'Liberation Sans', sans-serif" font-size="5.6" fill="#222" text-anchor="middle">Count</text>
<text x="593.60" y="240.60" font-family="'Liberation Sans', sans-serif" font-size="7.73" textLength="63.91" lengthAdjust="spacingAndGlyphs" fill="#111" >2,3-dehydrosilybin</text>
<text x="615.39" y="298.70" font-family="'Liberation Sans', sans-serif" font-size="7.73" textLength="15.70" lengthAdjust="spacingAndGlyphs" fill="#111" >33.1</text>
</svg>
</body></html>
